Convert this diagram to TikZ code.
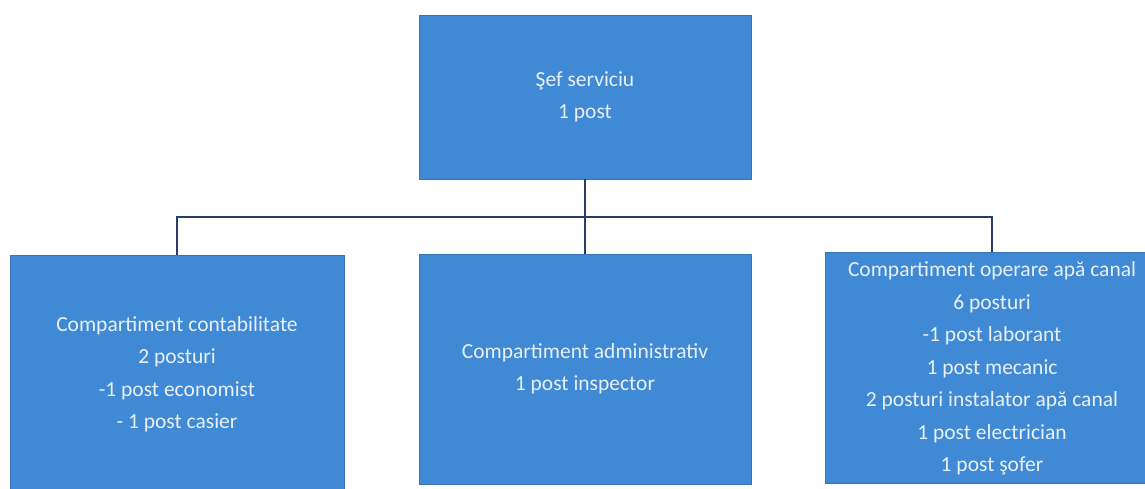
\documentclass[tikz,border=0pt]{standalone}
\usepackage{fontspec}
\setmainfont{Carlito}
\definecolor{boxblue}{RGB}{64,137,212}
\definecolor{linenavy}{RGB}{38,62,105}
\definecolor{txtwhite}{RGB}{232,240,250}
\begin{document}
\begin{tikzpicture}[x=1pt,y=-1pt,
  unit/.style={draw=boxblue!85!black, line width=0.8pt, fill=boxblue, text=txtwhite,
    align=center, inner sep=0pt, font=\fontsize{21.5}{32.5}\selectfont},
  link/.style={draw=linenavy, line width=2.6pt}]
\useasboundingbox (0,0) rectangle (1145,489);
\node[unit, minimum width=332pt, minimum height=164pt] (top) at (585,97) {Şef serviciu\\1 post};
\node[unit, minimum width=334pt, minimum height=239pt] (left) at (177,374.5) {Compartiment contabilitate\\2 posturi\\-1 post economist\\- 1 post casier};
\node[unit, minimum width=332pt, minimum height=230pt] (mid) at (585,369) {Compartiment administrativ\\1 post inspector};
\node[unit, minimum width=350pt, minimum height=231pt] (right) at (1000,367.5) {\hspace*{-16pt}\begin{tabular}{@{}c@{}}Compartiment operare apă canal\\6 posturi\\-1 post laborant\\1 post mecanic\\2 posturi instalator apă canal\\1 post electrician\\1 post şofer\end{tabular}};
\coordinate (bus) at (585,217);
\draw[link] (top.south) -- (mid.north);
\draw[link] (left.north) |- (bus) -| ([xshift=-8pt]right.north);
\end{tikzpicture}
\end{document}
